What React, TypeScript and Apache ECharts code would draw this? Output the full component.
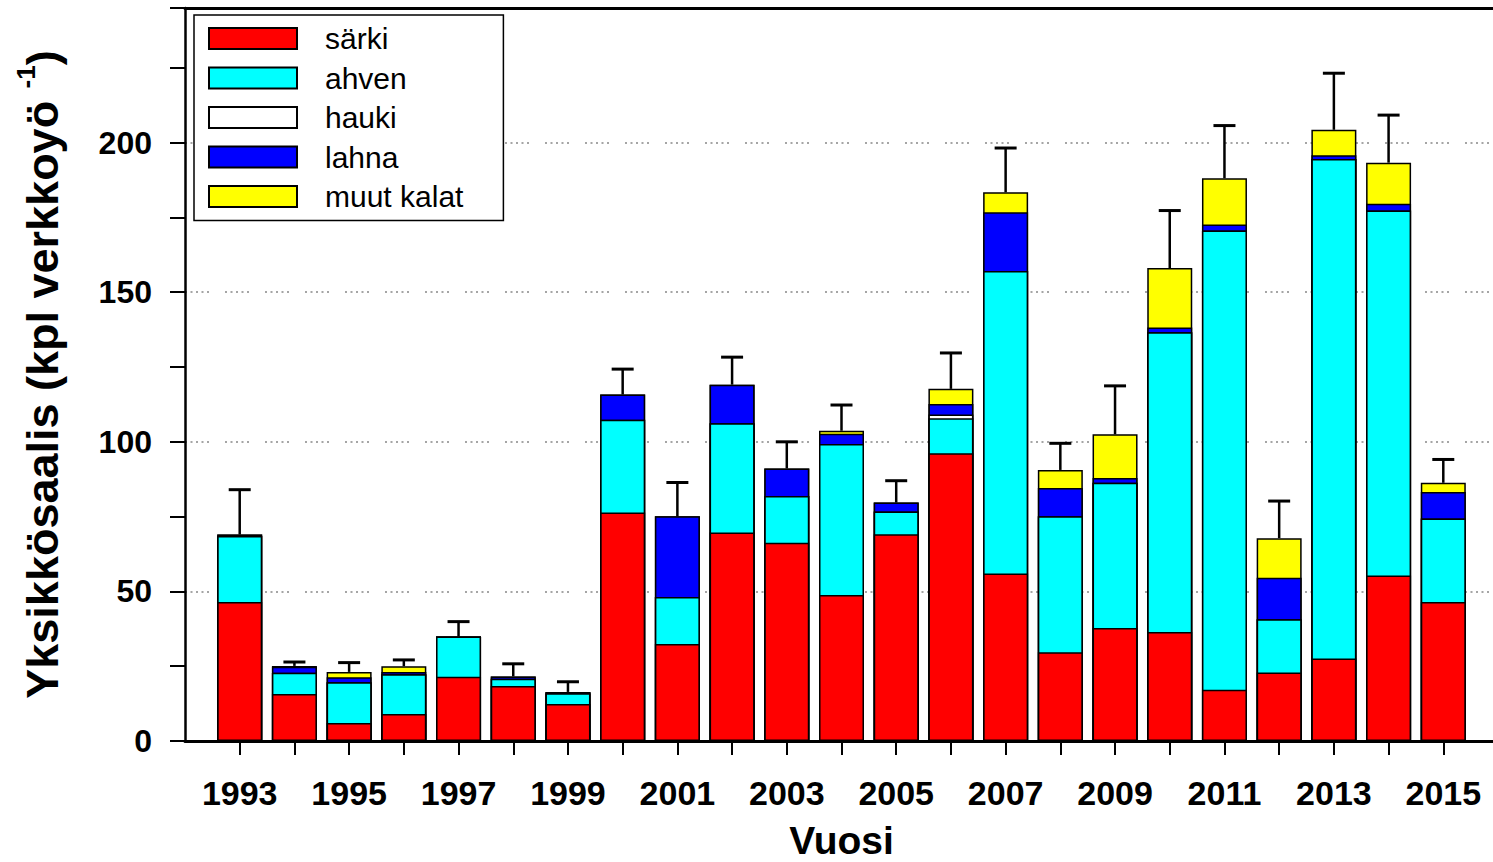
import React, { useEffect, useRef } from "react";
import * as echarts from "echarts";

const years = [1993, 1994, 1995, 1996, 1997, 1998, 1999, 2000, 2001, 2002, 2003, 2004, 2005, 2006, 2007, 2008, 2009, 2010, 2011, 2012, 2013, 2014, 2015];
const sarki = [46.5, 15.7, 6, 9, 21.5, 18.4, 12.4, 76.4, 32.4, 69.7, 66.3, 48.8, 69.1, 96.2, 56, 29.7, 37.8, 36.4, 17.1, 22.9, 27.6, 55.3, 46.5];
const ahven = [22, 7.1, 13.6, 13.3, 13.4, 2.4, 3.6, 31, 15.7, 36.5, 15.6, 50.5, 7.6, 11.7, 101.1, 45.4, 48.5, 100.2, 153.5, 17.8, 166.9, 122, 27.9];
const hauki = [0, 0, 0, 0, 0, 0, 0, 0, 0, 0, 0, 0, 0, 1.2, 0, 0, 0, 0, 0, 0, 0, 0, 0];
const lahna = [0.5, 2, 1.7, 0.8, 0, 0.8, 0.4, 8.4, 27, 12.9, 9.2, 3.4, 3, 3.5, 19.6, 9.5, 1.6, 1.6, 2, 13.9, 1.3, 2.3, 8.8];
const muut = [0, 0.3, 1.8, 1.9, 0, 0, 0, 0, 0, 0, 0, 1, 0, 5.1, 6.7, 6, 14.6, 19.9, 15.5, 13.2, 8.5, 13.7, 3.1];
const errors = [15, 1.3, 3.1, 2.1, 5, 4.2, 3.4, 8.5, 11.3, 9.2, 8.9, 8.6, 7.3, 12, 14.8, 8.9, 16.2, 19.2, 17.6, 12.4, 18.9, 15.9, 7.8];
const labelYears = [1993, 1995, 1997, 1999, 2001, 2003, 2005, 2007, 2009, 2011, 2013, 2015];
const seriesNames = ["särki", "ahven", "hauki", "lahna", "muut kalat"];
const seriesColors = ["#ff0000", "#00ffff", "#ffffff", "#0000ff", "#ffff00"];

const FONT = "'Liberation Sans', Arial, sans-serif";

export default function App() {
  const ref = useRef<HTMLDivElement>(null);
  useEffect(() => {
    if (!ref.current) return;
    const chart = echarts.init(ref.current, null, { renderer: "svg" });
    const values = [sarki, ahven, hauki, lahna, muut];
    // cumulative tops of each stacked segment (stack drawn manually: bars from 0, upper segments drawn underneath)
    const cumulative = values.map((_, k) =>
      years.map((_, i) => {
        let s = 0;
        for (let j = 0; j <= k; j++) s += values[j][i];
        return Math.round(s * 100) / 100;
      })
    );
    const totals = cumulative[cumulative.length - 1];
    const barSeries = seriesNames
      .map((name, k) => ({
        name,
        type: "bar",
        barWidth: 45,
        barGap: "-100%",
        itemStyle: { color: seriesColors[k], borderColor: "#000", borderWidth: 1.5 },
        data: years.map((y, i) => [y, cumulative[k][i]]),
      }))
      .reverse();
    const errSeries = {
      name: "err",
      type: "custom",
      z: 3,
      encode: { x: 0, y: [1, 2] },
      data: years.map((y, i) => [y, totals[i], totals[i] + errors[i]]),
      renderItem: (params: any, api: any) => {
        const x = api.value(0);
        const p1 = api.coord([x, api.value(1)]);
        const p2 = api.coord([x, api.value(2)]);
        const half = 11;
        return {
          type: "group",
          children: [
            { type: "line", shape: { x1: p1[0], y1: p1[1], x2: p2[0], y2: p2[1] }, style: { stroke: "#000", lineWidth: 2.5 } },
            { type: "line", shape: { x1: p2[0] - half, y1: p2[1], x2: p2[0] + half, y2: p2[1] }, style: { stroke: "#000", lineWidth: 3 } },
          ],
        };
      },
    };
    chart.setOption({
      animation: false,
      backgroundColor: "#fff",
      grid: { left: 185, top: 8, right: -5, bottom: 121, outerBoundsMode: "none", containLabel: false },
      legend: {
        data: seriesNames,
        orient: "vertical",
        left: 194,
        top: 15,
        icon: "rect",
        itemWidth: 88,
        itemHeight: 21,
        itemGap: 9.5,
        padding: [8.5, 40, 9, 14],
        backgroundColor: "#fff",
        borderColor: "#000",
        borderWidth: 1.5,
        borderRadius: 0,
        textStyle: { fontFamily: FONT, fontSize: 30, color: "#000", padding: [0, 0, 0, 23] },
      },
      xAxis: [
        {
          type: "value",
          min: 1992,
          max: 2016,
          interval: 1,
          name: "Vuosi",
          nameLocation: "middle",
          nameGap: 79,
          nameTextStyle: { fontFamily: FONT, fontSize: 39, fontWeight: "bold", color: "#000", lineHeight: 40 },
          axisLine: { show: true, lineStyle: { color: "#000", width: 3 } },
          axisTick: { show: true, length: 14, lineStyle: { color: "#000", width: 2 }, customValues: years },
          axisLabel: {
            customValues: labelYears,
            margin: 35,
            fontFamily: FONT,
            fontSize: 34,
            fontWeight: "bold",
            color: "#000",
            formatter: (v: number) => (labelYears.indexOf(v) >= 0 ? String(v) : ""),
          },
          splitLine: { show: false },
        },
        {
          type: "value",
          position: "top",
          min: 1992,
          max: 2016,
          axisLine: { show: true, lineStyle: { color: "#000", width: 3 } },
          axisTick: { show: false },
          axisLabel: { show: false },
          splitLine: { show: false },
        },
      ],
      yAxis: {
        type: "value",
        min: 0,
        max: 245,
        interval: 50,
        name: "{a|Yksikkösaalis (kpl verkkoyö }{b|-1}{a|)}",
        nameLocation: "middle",
        nameRotate: 90,
        nameGap: 120,
        nameTextStyle: {
          rich: {
            a: { fontFamily: FONT, fontSize: 45, fontWeight: "bold", color: "#000", verticalAlign: "bottom", lineHeight: 52 },
            b: { fontFamily: FONT, fontSize: 26, fontWeight: "bold", color: "#000", verticalAlign: "top", lineHeight: 52 },
          },
        },
        axisLine: { show: true, lineStyle: { color: "#000", width: 2.5 } },
        axisTick: { show: true, length: 15, lineStyle: { color: "#000", width: 2 } },
        minorTick: { show: true, splitNumber: 2, length: 15, lineStyle: { color: "#000", width: 2 } },
        axisLabel: { margin: 33, fontFamily: FONT, fontSize: 32, fontWeight: "bold", color: "#000", showMaxLabel: false },
        splitLine: {
          show: true,
          lineStyle: { color: "#888", width: 1.5, type: [2, 3.5, 2, 3.5, 2, 3.5, 2, 3.5, 2, 16] },
        },
      },
      series: [...barSeries, errSeries],
    });
    return () => chart.dispose();
  }, []);
  return <div ref={ref} style={{ position: "fixed", left: 0, top: 0, width: 1493, height: 862 }} />;
}
